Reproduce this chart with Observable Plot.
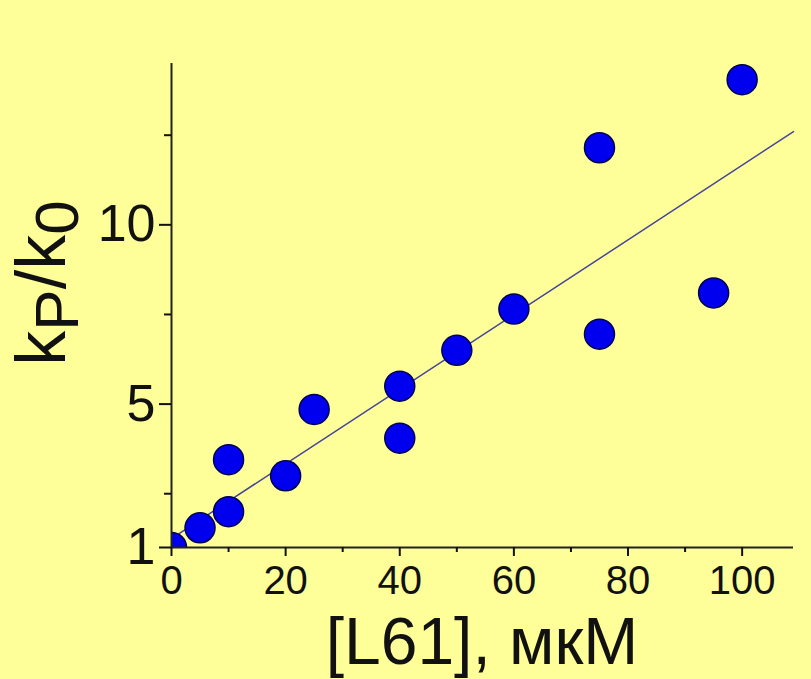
<!DOCTYPE html>
<html><head><meta charset="utf-8">
<script src="https://cdn.jsdelivr.net/npm/d3@7"></script>
<script src="https://cdn.jsdelivr.net/npm/@observablehq/plot@0.6"></script>
<style>html,body{margin:0;padding:0;background:#ffff99;overflow:hidden;}</style>
</head><body><div id="chart"></div>
<script>
// Data
const concentration = [0, 5, 10, 10, 20, 25, 40, 40, 50, 60, 75, 75, 95, 100];
const ratio = [1, 1.55, 2, 3.45, 3, 4.85, 4.05, 5.5, 6.5, 7.65, 12.15, 6.95, 8.1, 14.05];
const fitX = [0, 109];
const fitY = [1.25, 12.6];
const xMinorTicks = [10, 30, 50, 70, 90];
const xLabelTicks = [0, 20, 40, 60, 80, 100];
const yLabelTicks = [1, 5, 10];
const yMinorTicks = [2.5, 7.5, 12.5];
const xTitle = "[L61], мкМ";

const points = concentration.map((x, i) => ({x, y: ratio[i]}));
const fit = fitX.map((x, i) => ({x, y: fitY[i]}));

const chart = Plot.plot({
  width: 811, height: 679,
  marginLeft: 171, marginRight: 18, marginTop: 63, marginBottom: 132,
  style: {background: "#ffff99", fontFamily: "'Liberation Sans', Arial, sans-serif", color: "#111", overflow: "visible"},
  x: {domain: [0, 109], label: null},
  y: {domain: [1, 14.5], label: null},
  marks: [
    Plot.line(fit, {x: "x", y: "y", stroke: "#45459a", strokeWidth: 1.5}),
    Plot.dot(points, {x: "x", y: "y", r: 15, fill: "#0000ee", stroke: "#000050", strokeWidth: 1.5, clip: true}),
    Plot.ruleY([1], {stroke: "#222", strokeWidth: 2}),
    Plot.ruleX([0], {stroke: "#222", strokeWidth: 2}),
    Plot.axisX(xMinorTicks, {tickSize: 5, strokeWidth: 2, tickFormat: () => "", label: null}),
    Plot.axisX(xLabelTicks, {tickSize: 9, strokeWidth: 2, tickPadding: 9, fontSize: 40, label: null}),
    Plot.axisY(yLabelTicks, {tickSize: 12, strokeWidth: 2, tickPadding: 4, fontSize: 52, label: null}),
    Plot.axisY(yMinorTicks, {tickSize: 7, strokeWidth: 2, tickFormat: () => "", label: null})
  ]
});

const svg = d3.select(chart);
svg.append("text")
  .attr("x", 482).attr("y", 664)
  .attr("text-anchor", "middle")
  .attr("font-size", 66)
  .attr("fill", "#111")
  .text(xTitle);

const yt = svg.append("text")
  .attr("transform", "translate(65,283) rotate(-90)")
  .attr("text-anchor", "middle")
  .attr("font-size", 70)
  .attr("fill", "#111");
yt.append("tspan").text("k");
yt.append("tspan").attr("dy", 13).attr("font-size", 62).text("P");
yt.append("tspan").attr("dy", -13).text("/k");
yt.append("tspan").attr("dy", 13).attr("font-size", 62).text("0");

document.getElementById("chart").appendChild(chart);
</script>
</body></html>
